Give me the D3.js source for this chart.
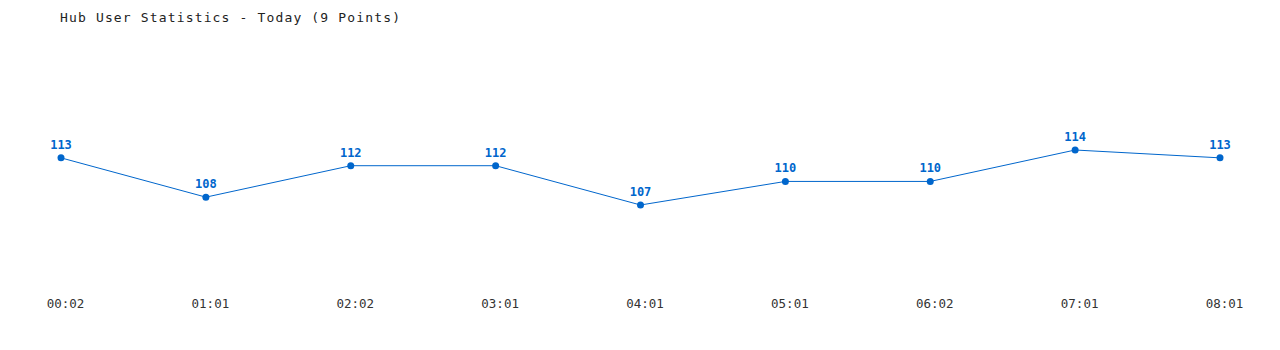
<!DOCTYPE html>
<html>
<head>
<meta charset="utf-8">
<script src="https://cdn.jsdelivr.net/npm/d3@7"></script>
<style>
  html, body { margin: 0; padding: 0; background: #fff; }
  svg { display: block; font-family: "DejaVu Sans Mono", "Liberation Mono", monospace; }
</style>
</head>
<body>
<div id="chart"></div>
<script>
// Hub user count, sampled roughly hourly today
const times = ["00:02", "01:01", "02:02", "03:01", "04:01", "05:01", "06:02", "07:01", "08:01"];
const users = [113, 108, 112, 112, 107, 110, 110, 114, 113];
const title = "Hub User Statistics - Today (9 Points)";

const width = 1280, height = 350;
const blue = "#0066cc";

const svg = d3.select("#chart").append("svg")
  .attr("width", width)
  .attr("height", height);

const x = d3.scalePoint().domain(times).range([61, 1220]);
const y = d3.scaleLinear().domain([107, 114]).range([205, 150]);

svg.append("text")
  .attr("x", 60)
  .attr("y", 22)
  .attr("font-size", 13)
  .attr("letter-spacing", "1.15px")
  .attr("fill", "#222")
  .text(title);

const pts = times.map((t, i) => ({ t, v: users[i] }));

svg.append("path")
  .datum(pts)
  .attr("fill", "none")
  .attr("stroke", blue)
  .attr("stroke-width", 1)
  .attr("d", d3.line().x(d => x(d.t)).y(d => y(d.v)));

svg.append("g").selectAll("circle")
  .data(pts)
  .join("circle")
  .attr("cx", d => x(d.t))
  .attr("cy", d => y(d.v))
  .attr("r", 3.5)
  .attr("fill", blue);

svg.append("g").selectAll("text")
  .data(pts)
  .join("text")
  .attr("x", d => x(d.t))
  .attr("y", d => y(d.v) - 9)
  .attr("text-anchor", "middle")
  .attr("font-size", 12)
  .attr("font-weight", "bold")
  .attr("fill", blue)
  .text(d => d.v);

// x axis: labels only, no line or ticks
const xAxis = svg.append("g")
  .attr("transform", "translate(4,0)")
  .call(d3.axisBottom(x).tickSize(0));
xAxis.select(".domain").remove();
xAxis.selectAll("text")
  .attr("y", 308)
  .attr("dy", null)
  .attr("font-size", 12.5)
  .attr("font-family", "DejaVu Sans Mono, monospace")
  .attr("fill", "#333");
</script>
</body>
</html>
